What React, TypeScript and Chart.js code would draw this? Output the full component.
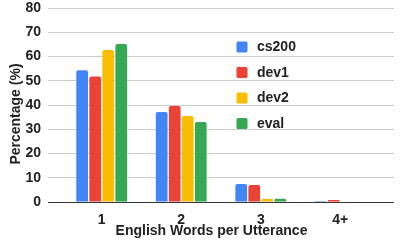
import React, { useEffect, useRef } from "react";
import { Chart, registerables } from "chart.js";

Chart.register(...registerables);

const categories = ["1", "2", "3", "4+"];
const seriesNames = ["cs200", "dev1", "dev2", "eval"];
const cs200 = [54.3, 37.1, 7.4, 0.4];
const dev1 = [51.8, 39.6, 7.0, 0.8];
const dev2 = [62.7, 35.5, 1.2, 0.2];
const evalSet = [65.2, 33.0, 1.3, 0.2];
const colors = ["#4285F4", "#EA4335", "#FBBC04", "#34A853"];
const yTicks = [0, 10, 20, 30, 40, 50, 60, 70, 80];
const xTitle = "English Words per Utterance";
const yTitle = "Percentage (%)";

const FONT = "'Liberation Sans', Arial, sans-serif";
const TEXT = "#222222";
const FS = 14;

const overlayPlugin = {
  id: "overlay",
  afterDraw(chart: any) {
    const ctx = chart.ctx;
    ctx.save();
    ctx.font = `bold ${FS}px ${FONT}`;
    ctx.fillStyle = TEXT;
    // legend inside chart area
    const lx = 236.5;
    const ly0 = 47;
    const step = 25.5;
    chart.data.datasets.forEach((ds: any, i: number) => {
      const cy = ly0 + i * step;
      ctx.fillStyle = ds.backgroundColor;
      ctx.beginPath();
      if (ctx.roundRect) ctx.roundRect(lx, cy - 5.5, 11, 11, 1.5);
      else ctx.rect(lx, cy - 5.5, 11, 11);
      ctx.fill();
      ctx.fillStyle = TEXT;
      ctx.textAlign = "left";
      ctx.textBaseline = "middle";
      ctx.fillText(ds.label, lx + 20.5, cy + 0.5);
    });
    // x title
    ctx.textAlign = "center";
    ctx.textBaseline = "alphabetic";
    ctx.fillText(xTitle, 211.5, 234.5);
    // y title
    ctx.translate(20, 114);
    ctx.rotate(-Math.PI / 2);
    ctx.fillText(yTitle, 0, 0);
    ctx.restore();
  },
};

export default function App() {
  const ref = useRef<HTMLCanvasElement | null>(null);
  useEffect(() => {
    document.body.style.margin = "0";
    const all = [cs200, dev1, dev2, evalSet];
    const chart = new Chart(ref.current as HTMLCanvasElement, {
      type: "bar",
      data: {
        datasets: all.map((vals, i) => ({
          label: seriesNames[i],
          data: vals.map((v, j) => ({ x: j, y: v })),
          backgroundColor: colors[i],
          borderWidth: 0,
          borderRadius: 2,
          categoryPercentage: 0.655,
          barPercentage: 0.9,
        })),
      },
      options: {
        animation: false,
        responsive: false,
        maintainAspectRatio: false,
        layout: { padding: { top: 8, right: 8, left: 0, bottom: 0 } },
        plugins: {
          legend: { display: false },
          tooltip: { enabled: false },
          title: { display: false },
        },
        scales: {
          x: {
            type: "linear",
            offset: false,
            min: -0.675,
            max: 3.675,
            grid: { display: false, drawTicks: false, offset: false },
            border: { display: false },
            afterBuildTicks: (scale: any) => {
              scale.ticks = categories.map((_, i) => ({ value: i }));
            },
            afterFit: (scale: any) => {
              scale.height = 38;
              scale.paddingLeft = 0;
              scale.paddingRight = 0;
            },
            ticks: {
              padding: 10,
              autoSkip: false,
              maxRotation: 0,
              color: TEXT,
              font: { family: FONT, size: FS, weight: "bold" },
              callback: (v: any) => categories[v as number] ?? "",
            },
          },
          y: {
            min: 0,
            max: 80,
            afterBuildTicks: (scale: any) => {
              scale.ticks = yTicks.map((v) => ({ value: v }));
            },
            afterFit: (scale: any) => {
              scale.width = 48;
              scale.paddingTop = 0;
              scale.paddingBottom = 0;
            },
            grid: {
              drawTicks: false,
              color: (c: any) => (c.tick && c.tick.value === 0 ? "#333333" : "#cccccc"),
              lineWidth: 1,
            },
            border: { display: false },
            ticks: {
              padding: 7,
              color: TEXT,
              font: { family: FONT, size: FS, weight: "bold" },
            },
          },
        },
      },
      plugins: [overlayPlugin],
    } as any);
    return () => chart.destroy();
  }, []);
  return (
    <div style={{ width: 402, height: 240 }}>
      <canvas ref={ref} width={402} height={240} style={{ display: "block" }} />
    </div>
  );
}
